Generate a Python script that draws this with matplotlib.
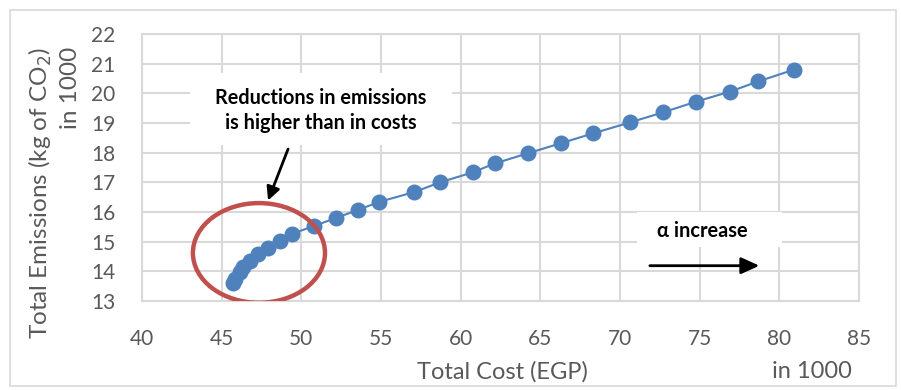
import matplotlib
matplotlib.use("Agg")
import matplotlib.pyplot as plt
from matplotlib.patches import Ellipse, Rectangle

plt.rcParams['font.family'] = ['Lato', 'DejaVu Sans']

# Pareto front: total cost (EGP, thousands) vs total emissions (kg CO2, thousands)
total_cost = [45.71, 45.84, 46.15, 46.34, 46.78, 47.28, 47.91, 48.66, 49.40,
              50.80, 52.18, 53.56, 54.88, 57.07, 58.71, 60.78, 62.16, 64.23,
              66.30, 68.31, 70.63, 72.71, 74.78, 76.91, 78.67, 80.93]
total_emissions = [13.60, 13.75, 13.99, 14.15, 14.36, 14.59, 14.79, 15.03, 15.26,
                   15.53, 15.80, 16.07, 16.34, 16.67, 17.00, 17.34, 17.64, 17.98,
                   18.32, 18.65, 19.02, 19.36, 19.72, 20.06, 20.40, 20.80]

x_ticks = [40, 45, 50, 55, 60, 65, 70, 75, 80, 85]
y_ticks = [13, 14, 15, 16, 17, 18, 19, 20, 21, 22]

BLUE = '#4F81BD'
GRID = '#D9D9D9'
TEXT = '#595959'

fig = plt.figure(figsize=(9.01, 3.90), dpi=100)
W, H = 901, 390
ax = fig.add_axes([142 / W, 1 - 301 / H, (859 - 142) / W, (301 - 34) / H])

ax.plot(total_cost, total_emissions, '-o', color=BLUE, lw=1.5,
        markersize=11.5, markeredgewidth=0, zorder=4)

ax.set_xlim(40, 85)
ax.set_ylim(13, 22)
ax.set_xticks(x_ticks)
ax.set_yticks(y_ticks)
ax.grid(True, color=GRID, lw=1.5, zorder=0)
ax.set_axisbelow(True)
for s in ax.spines.values():
    s.set_color(GRID)
    s.set_linewidth(1.5)
ax.tick_params(length=0, labelsize=15, labelcolor=TEXT)
ax.tick_params(axis='x', pad=20)
ax.tick_params(axis='y', pad=19)

# axis titles
fig.text(502 / W, 1 - 372 / H, 'Total Cost (EGP)', ha='center', va='center',
         fontsize=17, color=TEXT)
fig.text(812 / W, 1 - 372 / H, 'in 1000', ha='center', va='center',
         fontsize=17, color=TEXT)
fig.text(54 / W, 1 - 193 / H, 'Total Emissions (kg of CO$_2$)\nin 1000',
         rotation=90, ha='center', va='center', multialignment='right',
         fontsize=17.5, color=TEXT, linespacing=1.35)

# callout: emissions vs cost
ax.add_patch(Rectangle((43.0, 18.25), 16.46, 2.45, facecolor='white',
                       edgecolor='none', zorder=2))
ax.text(51.2, 19.42, 'Reductions in emissions\nis higher than in costs',
        ha='center', va='center', fontsize=14.3, fontweight='bold',
        color='black', linespacing=1.3, zorder=5)
ax.annotate('', xy=(47.85, 16.30), xytext=(49.23, 18.21),
            arrowprops=dict(arrowstyle='-|>,head_length=0.8,head_width=0.4',
                            color='black', lw=2), zorder=5)
ax.add_patch(Ellipse((47.34, 14.62), 8.29, 3.36, facecolor='none',
                     edgecolor='#C0504D', lw=3.2, zorder=5))

# callout: alpha direction
ax.add_patch(Rectangle((71.07, 14.83), 9.11, 1.17, facecolor='white',
                       edgecolor='none', zorder=2))
ax.text(75.15, 15.36, 'α increase', ha='center', va='center', fontsize=14.4,
        fontweight='bold', color='black', zorder=5)
ax.annotate('', xy=(78.92, 14.19), xytext=(71.70, 14.19),
            arrowprops=dict(arrowstyle='-|>,head_length=1.1,head_width=0.5',
                            color='black', lw=2), zorder=5)

# chart border
fig.add_artist(Rectangle((10 / W, 1 - 386 / H), 886 / W, 376 / H,
                         transform=fig.transFigure, facecolor='none',
                         edgecolor=GRID, lw=1.2))

fig.savefig('out.png', dpi=100)
